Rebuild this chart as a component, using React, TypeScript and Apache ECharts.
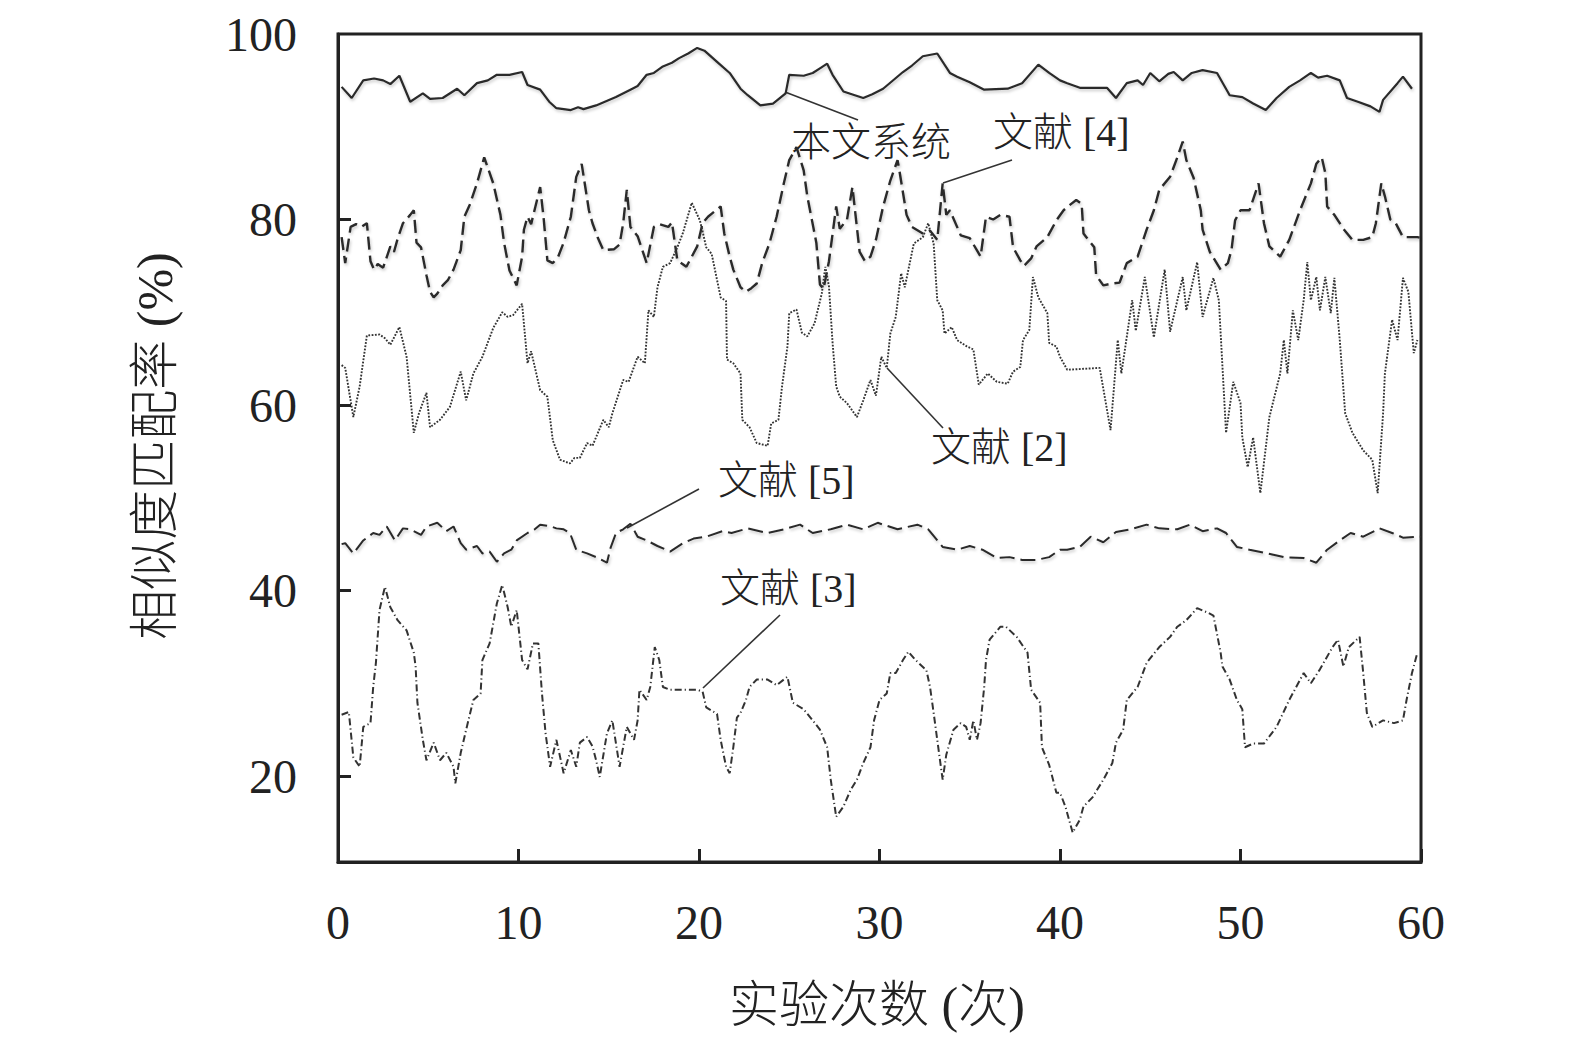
import React, { useEffect, useRef } from "react";
import * as echarts from "echarts";

// ---- data (x = 实验次数, y = 相似度匹配率 %) ----
const xTickValues = [0, 10, 20, 30, 40, 50, 60];
const yLabelValues = [20, 40, 60, 80, 100];
const yTickValues = [20, 40, 60, 80];

const seriesNames = ["本文系统", "文献 [4]", "文献 [2]", "文献 [5]", "文献 [3]"];

const ourSystem: number[][] = [
  [0.2, 94.3], [0.76, 93.1], [1.4, 95.0], [2.0, 95.2], [2.5, 95.0], [2.9, 94.6], [3.4, 95.5], [4.0, 92.7],
  [4.7, 93.6], [5.1, 93.0], [5.8, 93.1], [6.6, 94.1], [7.0, 93.4], [7.7, 94.7], [8.3, 95.0], [8.8, 95.6],
  [9.5, 95.6], [10.2, 95.9], [10.5, 94.5], [11.2, 94.0], [11.7, 92.7], [12.1, 92.0], [12.9, 91.8], [13.3, 92.1],
  [13.6, 91.9], [14.3, 92.3], [15.4, 93.2], [16.2, 94.0], [16.6, 94.4], [17.1, 95.6], [17.5, 95.8], [18.0, 96.5],
  [18.5, 96.9], [18.9, 97.4], [19.4, 97.9], [19.9, 98.5], [20.3, 98.2], [21.0, 97.0], [21.7, 95.8], [22.3, 94.1],
  [22.7, 93.4], [23.4, 92.3], [24.1, 92.5], [24.8, 93.6], [25.0, 95.6], [25.8, 95.5], [26.3, 95.8], [26.7, 96.3],
  [27.1, 96.8], [27.4, 95.6], [28.0, 93.8], [29.1, 93.1], [29.6, 93.5], [30.2, 94.1], [31.3, 95.9], [31.8, 96.6],
  [32.4, 97.6], [33.2, 97.9], [33.9, 95.8], [34.3, 95.4], [35.0, 94.8], [35.8, 94.0], [37.1, 94.1], [37.9, 94.7],
  [38.8, 96.7], [39.4, 95.8], [40.0, 95.0], [40.4, 94.7], [41.1, 94.2], [42.6, 94.2], [43.1, 93.1], [43.7, 94.7],
  [44.3, 95.0], [44.6, 94.5], [45.0, 95.8], [45.5, 94.9], [46.0, 95.7], [46.3, 95.9], [46.8, 95.0], [47.3, 95.8],
  [47.9, 96.1], [48.7, 95.8], [49.4, 93.4], [50.1, 93.2], [50.7, 92.5], [51.4, 91.8], [52.0, 93.1], [52.7, 94.3],
  [53.3, 95.0], [53.9, 95.8], [54.3, 95.3], [54.8, 95.5], [55.5, 95.0], [55.9, 93.1], [56.5, 92.7], [57.2, 92.2],
  [57.7, 91.6], [57.9, 92.9], [58.7, 94.7], [59.0, 95.4], [59.5, 94.1],
];

const ref4: number[][] = [
  [0.2, 78.1], [0.4, 75.3], [0.7, 79.2], [1.0, 79.5], [1.3, 79.2], [1.6, 79.6], [1.8, 75.5], [2.0, 74.6],
  [2.2, 75.2], [2.5, 74.8], [2.9, 77.1], [3.1, 76.5], [3.3, 77.9], [3.6, 79.6], [4.0, 80.5], [4.2, 81.0],
  [4.35, 77.5], [4.6, 77.0], [4.9, 74.0], [5.1, 72.2], [5.3, 71.6], [5.5, 72.0], [5.8, 72.9], [6.1, 73.5],
  [6.4, 74.6], [6.8, 76.7], [7.0, 80.3], [7.3, 81.6], [7.7, 83.9], [8.0, 86.0], [8.1, 86.7], [8.6, 83.9],
  [9.0, 80.5], [9.2, 77.5], [9.5, 74.5], [9.9, 72.9], [10.2, 76.0], [10.3, 78.9], [10.5, 80.3], [10.7, 79.5],
  [11.2, 83.5], [11.4, 80.0], [11.6, 75.6], [11.9, 75.3], [12.2, 76.0], [12.5, 77.5], [12.9, 80.3], [13.2, 84.6],
  [13.5, 86.0], [13.7, 83.5], [13.9, 81.0], [14.1, 79.6], [14.4, 78.0], [14.7, 76.7], [15.3, 76.8], [15.6, 77.3],
  [15.8, 79.6], [16.0, 83.2], [16.2, 79.2], [16.6, 78.2], [17.1, 75.3], [17.5, 79.2], [17.8, 79.5], [18.3, 79.2],
  [18.5, 79.7], [18.8, 75.6], [19.3, 74.9], [19.9, 77.1], [20.2, 79.6], [20.5, 80.3], [21.2, 81.4], [21.4, 78.5],
  [21.7, 76.0], [21.9, 74.6], [22.3, 72.7], [22.6, 72.2], [22.9, 72.6], [23.2, 73.1], [23.5, 75.3], [23.9, 77.4],
  [24.3, 80.3], [24.7, 83.9], [25.0, 86.4], [25.4, 87.8], [25.8, 85.3], [26.0, 82.5], [26.3, 79.5], [26.5, 77.5],
  [26.7, 73.0], [26.9, 72.5], [27.2, 75.5], [27.6, 81.4], [27.8, 79.0], [28.2, 80.0], [28.5, 83.5], [28.9, 76.5],
  [29.2, 75.5], [29.5, 76.0], [29.8, 77.8], [30.2, 81.4], [30.6, 84.2], [31.0, 86.4], [31.1, 85.3], [31.5, 80.5],
  [31.8, 79.2], [32.4, 78.5], [32.8, 78.8], [33.2, 77.8], [33.5, 83.9], [33.7, 80.5], [33.9, 81.0], [34.5, 78.3],
  [35.0, 78.0], [35.6, 76.0], [35.9, 80.3], [36.3, 80.0], [36.7, 80.5], [37.2, 80.3], [37.4, 77.0], [37.8, 75.6],
  [38.0, 75.0], [38.4, 75.8], [38.7, 77.1], [39.3, 78.1], [39.8, 79.9], [40.2, 81.0], [40.5, 81.5], [40.9, 82.1],
  [41.2, 81.7], [41.3, 78.5], [41.7, 77.5], [41.9, 77.0], [42.0, 74.0], [42.4, 72.9], [42.9, 73.1], [43.3, 73.2],
  [43.7, 75.3], [44.3, 76.0], [44.8, 78.9], [45.2, 81.0], [45.5, 83.2], [46.1, 84.6], [46.5, 86.7], [46.8, 88.4],
  [47.0, 86.4], [47.4, 84.5], [47.8, 81.0], [47.9, 78.9], [48.3, 76.5], [48.9, 74.6], [49.3, 75.3], [49.5, 76.7],
  [49.7, 79.9], [50.0, 81.0], [50.5, 81.0], [51.0, 83.9], [51.3, 79.6], [51.6, 77.1], [52.2, 76.0], [52.7, 77.8],
  [53.3, 81.0], [53.9, 83.9], [54.2, 86.0], [54.5, 86.7], [54.7, 85.0], [54.8, 81.4], [55.2, 80.5], [55.7, 79.0],
  [56.2, 77.8], [56.8, 77.8], [57.3, 78.1], [57.5, 79.6], [57.8, 83.9], [58.0, 82.5], [58.3, 80.0], [58.6, 79.6],
  [59.0, 78.1], [59.8, 78.1], [60.0, 78.0],
];

const ref2: number[][] = [
  [0.2, 64.3], [0.4, 64.0], [0.85, 58.7], [1.2, 62.0], [1.6, 67.5], [2.3, 67.6], [2.6, 67.2], [2.9, 66.5],
  [3.4, 68.4], [3.8, 65.2], [4.2, 57.0], [4.5, 59.2], [4.9, 61.3], [5.1, 57.6], [5.65, 58.4], [6.2, 59.8],
  [6.8, 63.6], [7.1, 60.5], [7.5, 63.4], [8.0, 65.2], [8.6, 68.3], [9.1, 70.0], [9.4, 69.5], [9.7, 69.7],
  [10.2, 70.9], [10.5, 64.5], [10.7, 65.8], [11.2, 61.6], [11.6, 60.9], [11.9, 56.2], [12.3, 54.1], [12.85, 53.7],
  [13.1, 54.3], [13.4, 54.3], [13.8, 55.9], [14.1, 55.6], [14.7, 58.4], [15.0, 57.6], [15.2, 59.1], [15.8, 62.7],
  [16.1, 62.5], [16.6, 65.2], [17.0, 64.5], [17.2, 70.2], [17.5, 69.5], [17.7, 72.7], [18.0, 74.9], [18.4, 75.3],
  [18.8, 77.0], [19.1, 78.5], [19.6, 81.8], [20.05, 79.9], [20.2, 78.7], [20.4, 77.0], [20.7, 76.3], [21.2, 71.6],
  [21.5, 71.2], [21.55, 64.9], [21.9, 64.5], [22.3, 63.4], [22.4, 58.4], [22.8, 57.6], [23.2, 55.9], [23.8, 55.6],
  [24.0, 58.0], [24.4, 58.4], [24.6, 62.0], [24.9, 66.3], [25.0, 69.9], [25.4, 70.3], [25.7, 67.8], [26.0, 67.4],
  [26.4, 68.8], [26.8, 72.0], [27.0, 74.9], [27.2, 72.8], [27.4, 66.7], [27.6, 62.0], [27.8, 60.9], [28.2, 60.2],
  [28.75, 58.7], [29.1, 60.5], [29.5, 62.7], [29.8, 61.0], [30.1, 65.2], [30.4, 64.0], [30.6, 67.7], [30.9, 69.5],
  [31.2, 74.2], [31.4, 72.7], [31.9, 77.4], [32.4, 78.1], [32.7, 79.6], [33.0, 77.4], [33.2, 71.3], [33.5, 70.2],
  [33.6, 67.7], [34.0, 68.4], [34.3, 67.0], [34.85, 66.3], [35.2, 66.0], [35.5, 62.2], [36.0, 63.4], [36.5, 62.5],
  [37.1, 62.3], [37.4, 63.6], [37.8, 64.1], [37.95, 67.0], [38.3, 68.1], [38.5, 73.8], [38.8, 71.6], [39.3, 69.9],
  [39.4, 66.7], [39.8, 66.3], [40.0, 65.2], [40.4, 63.8], [42.2, 64.0], [42.8, 57.3], [43.2, 67.0], [43.4, 63.4],
  [44.0, 71.3], [44.2, 68.0], [44.7, 73.8], [45.2, 67.3], [45.8, 74.6], [46.1, 67.9], [46.8, 73.8], [47.0, 70.2],
  [47.6, 75.4], [47.9, 69.5], [48.5, 73.7], [48.8, 71.3], [49.2, 57.0], [49.6, 62.5], [50.0, 60.2], [50.1, 56.5],
  [50.4, 53.3], [50.7, 56.5], [51.1, 50.5], [51.6, 58.7], [52.2, 63.4], [52.4, 67.0], [52.6, 63.4], [52.9, 70.2],
  [53.2, 67.0], [53.5, 71.3], [53.7, 75.4], [53.9, 71.3], [54.2, 73.8], [54.4, 70.2], [54.7, 73.8], [55.0, 69.9],
  [55.2, 73.7], [55.5, 67.0], [55.8, 59.1], [56.2, 57.0], [56.8, 55.1], [57.3, 54.1], [57.6, 50.5], [57.9, 59.1],
  [58.0, 63.4], [58.4, 69.2], [58.7, 67.0], [59.0, 73.7], [59.3, 72.2], [59.6, 65.6], [59.8, 67.0],
];

const ref5: number[][] = [
  [0.2, 45.0], [0.4, 45.1], [0.85, 44.0], [1.4, 45.4], [1.95, 46.2], [2.3, 46.0], [2.7, 46.9], [3.15, 45.4],
  [3.6, 46.7], [4.0, 46.6], [4.6, 46.0], [4.9, 46.9], [5.5, 47.3], [6.0, 46.4], [6.4, 46.9], [6.8, 45.1],
  [7.1, 44.4], [7.7, 44.8], [8.0, 44.0], [8.4, 44.2], [8.8, 43.1], [9.2, 44.0], [9.6, 44.4], [9.9, 45.4],
  [10.5, 46.2], [10.9, 46.6], [11.2, 47.1], [11.8, 46.9], [12.1, 46.7], [12.5, 46.6], [12.85, 46.2], [13.2, 44.4],
  [13.8, 44.0], [14.3, 43.6], [14.9, 43.0], [15.1, 44.6], [15.4, 46.2], [15.8, 46.6], [16.2, 47.2], [16.6, 45.8],
  [17.1, 45.4], [17.7, 44.8], [18.4, 44.2], [19.1, 45.1], [19.7, 45.6], [20.4, 45.8], [21.3, 46.4], [21.8, 46.2],
  [22.7, 46.7], [23.8, 46.2], [24.7, 46.6], [25.6, 47.1], [26.3, 46.2], [27.3, 46.6], [28.2, 47.1], [29.1, 46.6],
  [29.9, 47.3], [31.0, 46.6], [32.1, 47.1], [32.7, 46.6], [33.5, 44.7], [34.3, 44.4], [35.0, 44.8], [35.7, 44.4],
  [36.5, 43.5], [37.2, 43.6], [37.9, 43.3], [38.7, 43.3], [39.4, 43.6], [40.0, 44.4], [40.4, 44.4], [41.1, 44.7],
  [41.7, 45.8], [42.4, 45.2], [43.1, 46.3], [43.9, 46.6], [44.8, 47.1], [45.5, 46.7], [46.5, 46.6], [47.2, 47.1],
  [47.9, 46.4], [48.7, 46.7], [49.2, 46.2], [49.8, 44.7], [50.5, 44.4], [51.5, 44.0], [52.4, 43.6], [53.5, 43.5],
  [54.2, 43.0], [54.8, 44.4], [55.5, 45.4], [56.1, 46.2], [56.8, 45.8], [57.7, 46.7], [58.4, 46.2], [59.0, 45.7],
  [60.0, 45.8],
];

const ref3: number[][] = [
  [0.2, 26.6], [0.6, 26.9], [0.85, 22.0], [1.2, 21.0], [1.4, 25.3], [1.8, 25.7], [1.95, 29.6], [2.1, 32.2],
  [2.3, 37.9], [2.6, 40.4], [2.9, 38.2], [3.3, 36.8], [3.8, 35.7], [4.2, 33.3], [4.3, 31.8], [4.4, 27.9],
  [4.7, 23.9], [4.9, 21.7], [5.3, 23.6], [5.65, 21.7], [6.0, 22.5], [6.4, 21.0], [6.5, 19.2], [6.8, 22.5],
  [7.1, 25.0], [7.5, 28.2], [7.9, 28.9], [8.0, 32.5], [8.4, 34.3], [8.8, 38.6], [9.1, 40.6], [9.4, 38.2],
  [9.6, 36.1], [9.9, 37.9], [10.2, 32.5], [10.5, 31.5], [10.8, 34.3], [11.1, 34.3], [11.3, 28.9], [11.5, 24.6],
  [11.75, 21.0], [12.1, 23.9], [12.5, 20.3], [12.9, 22.8], [13.2, 21.0], [13.4, 23.6], [13.8, 24.2], [14.1, 23.2],
  [14.3, 21.7], [14.5, 19.9], [14.9, 24.6], [15.2, 26.0], [15.6, 21.0], [16.0, 25.3], [16.4, 23.9], [16.6, 26.0],
  [16.7, 29.3], [17.1, 28.2], [17.3, 29.6], [17.55, 33.9], [17.8, 32.5], [18.0, 29.6], [18.4, 29.3], [19.1, 29.3],
  [19.9, 29.3], [20.2, 29.1], [20.4, 27.4], [21.0, 26.7], [21.2, 23.9], [21.5, 21.0], [21.7, 20.3], [21.9, 23.1],
  [22.1, 26.3], [22.3, 26.8], [22.6, 28.2], [22.8, 29.6], [23.2, 30.4], [23.8, 30.4], [24.3, 29.8], [24.9, 30.7],
  [25.2, 27.9], [25.8, 27.2], [26.3, 26.0], [26.7, 25.0], [27.1, 23.1], [27.3, 19.6], [27.6, 15.6], [28.0, 16.7],
  [28.4, 18.5], [28.75, 19.6], [29.1, 21.4], [29.5, 23.1], [29.7, 26.0], [30.0, 28.2], [30.4, 28.9], [30.6, 31.1],
  [30.9, 31.1], [31.3, 32.5], [31.6, 33.4], [32.0, 32.5], [32.6, 31.4], [32.8, 29.6], [33.0, 26.8], [33.2, 23.9],
  [33.4, 21.0], [33.5, 19.6], [33.7, 22.3], [34.1, 25.0], [34.5, 25.7], [34.8, 25.3], [35.0, 23.9], [35.2, 26.0],
  [35.4, 23.9], [35.6, 25.7], [35.8, 29.6], [35.9, 32.5], [36.1, 34.7], [36.7, 36.1], [37.0, 36.1], [37.6, 35.0],
  [38.2, 33.3], [38.4, 29.3], [38.9, 27.9], [39.0, 23.1], [39.4, 21.2], [39.8, 18.2], [40.0, 18.2], [40.3, 16.7],
  [40.7, 13.9], [41.1, 15.3], [41.3, 16.7], [41.8, 17.7], [42.4, 19.6], [42.9, 21.4], [43.1, 23.6], [43.5, 25.0],
  [43.7, 28.2], [44.3, 29.6], [44.8, 32.2], [45.5, 33.9], [46.1, 35.0], [46.5, 36.1], [47.0, 36.8], [47.6, 38.1],
  [48.2, 37.6], [48.5, 37.3], [48.9, 33.3], [49.0, 31.8], [49.4, 30.4], [49.8, 28.2], [50.1, 27.2], [50.25, 23.1],
  [50.7, 23.5], [51.3, 23.5], [52.0, 25.3], [52.7, 28.2], [53.5, 31.1], [53.9, 30.0], [54.4, 31.5], [55.1, 33.9],
  [55.4, 34.7], [55.7, 31.8], [56.0, 33.9], [56.6, 35.0], [56.8, 31.1], [57.0, 26.8], [57.3, 25.3], [57.9, 26.0],
  [58.5, 25.7], [59.0, 26.0], [59.2, 28.2], [59.5, 31.1], [59.8, 33.3],
];

const xAxisTitle = "实验次数 (次)";
const yAxisTitle = "相似度匹配率 (%)";

const SERIF = "Liberation Serif, Noto Sans CJK SC, serif";
const INK = "#222";

export default function App() {
  const ref = useRef<HTMLDivElement>(null);

  useEffect(() => {
    if (!ref.current) return;
    const chart = echarts.init(ref.current, null, { renderer: "svg" });

    const shadow = {
      shadowColor: "rgba(0,0,0,0.22)",
      shadowBlur: 3,
      shadowOffsetX: 1,
      shadowOffsetY: 2,
    };

    const styles = [
      { color: "#2a2a2a", width: 2.2, type: "solid", ...shadow },
      { color: "#2a2a2a", width: 2.4, type: [13, 6], ...shadow },
      { color: "#333333", width: 1.9, type: [1.8, 1.5] },
      { color: "#2a2a2a", width: 2.0, type: [15, 6], ...shadow },
      { color: "#333333", width: 2.0, type: [7, 3, 1.2, 3] },
    ];
    const datas = [ourSystem, ref4, ref2, ref5, ref3];

    const annotationText = (text: string, x: number, y: number) => ({
      type: "text",
      x,
      y,
      silent: true,
      style: {
        text,
        fill: INK,
        fontSize: 40,
        fontWeight: 300,
        fontFamily: SERIF,
        align: "left",
        verticalAlign: "middle",
      },
    });
    const leader = (x1: number, y1: number, x2: number, y2: number) => ({
      type: "line",
      silent: true,
      shape: { x1, y1, x2, y2 },
      style: { stroke: "#333", lineWidth: 1.6 },
    });

    chart.setOption({
      animation: false,
      backgroundColor: "#ffffff",
      textStyle: { fontFamily: SERIF },
      grid: {
        left: 338,
        right: 154,
        top: 34,
        bottom: 184,
        show: true,
        borderColor: INK,
        borderWidth: 3,
        backgroundColor: "transparent",
      },
      xAxis: {
        type: "value",
        min: xTickValues[0],
        max: xTickValues[xTickValues.length - 1],
        interval: 10,
        axisLine: { show: true, lineStyle: { color: INK, width: 3 } },
        axisTick: { show: true, inside: true, length: 13, lineStyle: { color: INK, width: 3 } },
        axisLabel: {
          margin: 36,
          fontSize: 48,
          fontFamily: SERIF,
          color: INK,
        },
        splitLine: { show: false },
      },
      yAxis: {
        type: "value",
        min: 10.73,
        max: 100,
        axisLine: { show: true, lineStyle: { color: INK, width: 3 } },
        axisTick: {
          show: true,
          inside: true,
          length: 13,
          customValues: yTickValues,
          lineStyle: { color: INK, width: 3 },
        },
        axisLabel: {
          customValues: yLabelValues,
          margin: 41,
          fontSize: 48,
          fontFamily: SERIF,
          color: INK,
        },
        splitLine: { show: false },
      },
      series: datas.map((d, i) => ({
        name: seriesNames[i],
        type: "line",
        data: d,
        showSymbol: false,
        symbol: "none",
        smooth: false,
        lineStyle: styles[i],
        z: 3,
      })),
      graphic: [
        annotationText(seriesNames[0], 791, 142),
        leader(785, 92, 858, 120),
        annotationText(seriesNames[1], 993, 132),
        leader(943, 183, 1012, 160),
        annotationText(seriesNames[2], 931, 447),
        leader(887, 368, 943, 428),
        annotationText(seriesNames[3], 718, 480),
        leader(627, 528, 699, 489),
        annotationText(seriesNames[4], 720, 588),
        leader(703, 688, 780, 615),
        {
          type: "text",
          x: 877,
          y: 1005,
          silent: true,
          style: {
            text: xAxisTitle,
            fill: INK,
            fontSize: 50,
            fontWeight: 300,
            fontFamily: SERIF,
            align: "center",
            verticalAlign: "middle",
          },
        },
        {
          type: "text",
          x: 155,
          y: 446,
          rotation: Math.PI / 2,
          silent: true,
          style: {
            text: yAxisTitle,
            fill: INK,
            fontSize: 50,
            fontWeight: 300,
            fontFamily: SERIF,
            align: "center",
            verticalAlign: "middle",
          },
        },
      ],
    });

    return () => chart.dispose();
  }, []);

  return (
    <div
      ref={ref}
      style={{ position: "absolute", left: 0, top: 0, width: 1575, height: 1046 }}
    />
  );
}
